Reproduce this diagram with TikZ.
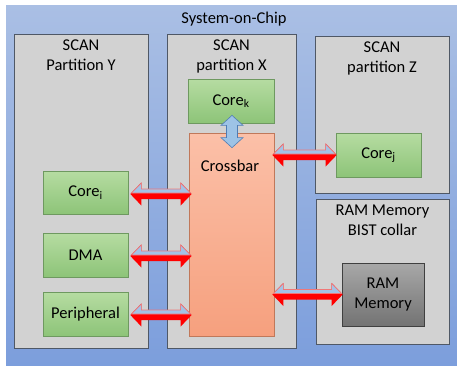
\documentclass[tikz,border=0pt]{standalone}
\usepackage{fontspec}
\setmainfont{Carlito}
\usetikzlibrary{calc}
\definecolor{socTop}{HTML}{AABFE4}
\definecolor{socBot}{HTML}{7C9EDC}
\definecolor{partFill}{HTML}{D2D2D2}
\definecolor{partLine}{HTML}{4F5866}
\definecolor{grnTop}{HTML}{B6DCA2}
\definecolor{grnBot}{HTML}{8DC478}
\definecolor{grnLine}{HTML}{6E9960}
\definecolor{xbTop}{HTML}{FBC0A8}
\definecolor{xbBot}{HTML}{F6A07E}
\definecolor{xbLine}{HTML}{C0785A}
\definecolor{ramTop}{HTML}{A8A8A8}
\definecolor{ramBot}{HTML}{737373}
\definecolor{arrBlue}{HTML}{A3C2E6}
\definecolor{arrPink}{HTML}{F07878}
\definecolor{vBlue}{HTML}{9DC3E6}
\definecolor{vLine}{HTML}{4F7DB5}
\tikzset{
  partbox/.style={draw=partLine, fill=partFill, line width=0.8pt},
  partlabel/.style={align=center, font=\fontsize{16.5}{20}\selectfont, anchor=north, inner sep=0pt},
  greenbox/.style={draw=grnLine, line width=0.7pt, top color=grnTop, bottom color=grnBot,
    font=\fontsize{16.5}{20}\selectfont, align=center},
}
% horizontal 3D double arrow: #1 gives the y and left x, #2 gives the right x
\newcommand{\hdarrow}[2]{%
  \fill[red] let \p1=(#1), \p2=(#2) in
    (\x1,\y1) -- (\x1+11pt,\y1+11.5pt) -- (\x1+11pt,\y1+5pt) -- (\x2-11pt,\y1+5pt)
    -- (\x2-11pt,\y1+11.5pt) -- (\x2,\y1) -- (\x2-11pt,\y1-11.5pt) -- (\x2-11pt,\y1-5pt)
    -- (\x1+11pt,\y1-5pt) -- (\x1+11pt,\y1-11.5pt) -- cycle;
  \draw[fill=arrBlue, draw=arrPink, line width=0.6pt] let \p1=(#1), \p2=(#2) in
    (\x1+1pt,\y1+1pt) -- (\x1+11pt,\y1+11pt) -- (\x1+11pt,\y1+5pt) -- (\x2-11pt,\y1+5pt)
    -- (\x2-11pt,\y1+11pt) -- (\x2-1pt,\y1+1pt) -- cycle;
}
\begin{document}
\begin{tikzpicture}[x=1pt,y=-1pt]
\useasboundingbox (0,0) rectangle (457,368);
% chip background
\fill[top color=socTop, bottom color=socBot] (6,5) rectangle (457,365);
\node[font=\fontsize{16.5}{20}\selectfont, inner sep=0pt] (title) at (234,19) {System-on-Chip};

% scan partitions
\draw[partbox] (14,34) rectangle (148,348);
\node[partlabel] (labY) at (81,40) {SCAN\\Partition Y};
\draw[partbox] (167,34) rectangle (296,348);
\node[partlabel] (labX) at (231.5,40) {SCAN\\partition X};
\draw[partbox] (315,36) rectangle (449,193);
\node[partlabel] (labZ) at (382,42) {SCAN\\partition Z};
\draw[partbox] (316,199) rectangle (449,344);
\node[partlabel] (labR) at (382.5,205) {RAM Memory\\BIST collar};

% cores and peripherals
\node[greenbox, minimum width=86pt, minimum height=44pt] (corek) at (231,101) {Core\textsubscript{k}};
\node[draw=xbLine, line width=0.7pt, top color=xbTop, bottom color=xbBot,
      minimum width=85pt, minimum height=203pt] (xbar) at (231.5,234.5) {};
\node[font=\fontsize{16.5}{20}\selectfont] (xbtext) at (230,166) {Crossbar};
\node[greenbox, minimum width=85pt, minimum height=44pt] (corej) at (378.5,155) {Core\textsubscript{j}};
\node[greenbox, minimum width=85pt, minimum height=43pt] (corei) at (85.5,192.5) {Core\textsubscript{i}};
\node[greenbox, minimum width=85pt, minimum height=44pt] (dma) at (85.5,255) {DMA};
\node[greenbox, minimum width=85pt, minimum height=44pt] (peri) at (85.5,314) {Peripheral};
\node[draw=black!75, line width=0.7pt, top color=ramTop, bottom color=ramBot,
      minimum width=82pt, minimum height=63pt, align=center,
      font=\fontsize{16.5}{20}\selectfont] (ram) at (383,294.5) {RAM\\Memory};

% bus connections to the crossbar
\hdarrow{$(corei.east)+(2,1.5)$}{$(xbar.west)+(3,0)$}
\hdarrow{$(dma.east)+(2,1)$}{$(xbar.west)+(3,0)$}
\hdarrow{$(peri.east)+(2,1)$}{$(xbar.west)+(3,0)$}
\hdarrow{$(xbar.east |- corej.west)+(-2,0)$}{$(corej.west)+(1,0)$}
\hdarrow{$(xbar.east |- ram.west)+(-2,0)$}{$(ram.west)+(1,0)$}

% vertical link between Core_k and the crossbar
\draw[fill=vBlue, draw=vLine, line width=0.6pt] let \p1=($(corek.south)+(1,-8)$), \p2=($(xbar.north)+(1,15)$) in
  (\x1,\y1) -- (\x1+11pt,\y1-10pt) -- (\x1+5.5pt,\y1-10pt) -- (\x1+5.5pt,\y2+10pt)
  -- (\x1+11pt,\y2+10pt) -- (\x1,\y2) -- (\x1-11pt,\y2+10pt) -- (\x1-5.5pt,\y2+10pt)
  -- (\x1-5.5pt,\y1-10pt) -- (\x1-11pt,\y1-10pt) -- cycle;
\end{tikzpicture}
\end{document}
